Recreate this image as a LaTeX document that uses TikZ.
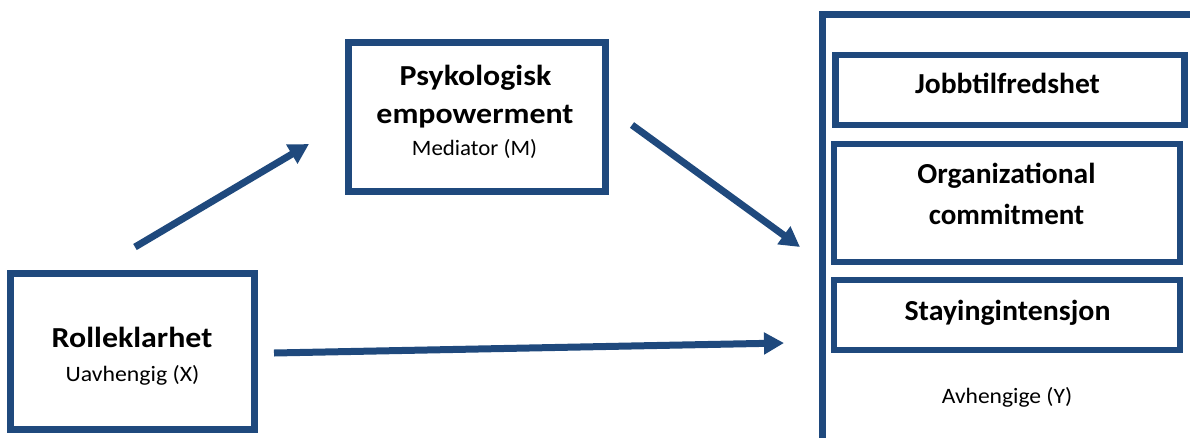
\documentclass[tikz,border=0pt]{standalone}
\usepackage{fontspec}
\usepackage{graphicx}
\setmainfont{Carlito}
\usetikzlibrary{arrows.meta}
\definecolor{navy}{HTML}{1F497D}
\newcommand\hsx[2]{\scalebox{#1}[1]{#2}}
\begin{document}
\begin{tikzpicture}[x=1pt,y=-1pt,
  box/.style={draw=navy, line width=7pt, rectangle, inner sep=0pt},
  title/.style={font=\fontsize{29}{34}\selectfont\bfseries, anchor=base, inner sep=0pt},
  sub/.style={font=\fontsize{22}{26}\selectfont, anchor=base, inner sep=0pt},
  conn/.style={draw=navy, line width=7pt, -{Triangle[length=20pt,width=21pt]}}
]
\useasboundingbox (0,0) rectangle (1190,437);
\clip (0,0) rectangle (1190,437);
% big dependent box (cut off by the edges)
\draw[navy, line width=7pt] (822.5,460) -- (822.5,14) -- (1210,14);
% boxes
\node[box, minimum width=244pt, minimum height=156pt] (x) at (132.5,351.5) {};
\node[box, minimum width=257pt, minimum height=149pt] (m) at (477,116.5) {};
\node[box, line width=6.5pt, minimum width=349pt, minimum height=70pt] (y1) at (1010,90) {};
\node[box, line width=6.5pt, minimum width=346pt, minimum height=118pt] (y2) at (1007,203) {};
\node[box, line width=6.5pt, minimum width=346pt, minimum height=70pt] (y3) at (1007,315) {};
% texts
\node[title] (xt) at (132,347) {\hsx{1.1}{Rolleklarhet}};
\node[sub] (xs) at (132.5,381) {\hsx{1.08}{Uavhengig (X)}};
\node[title] (mt1) at (475.5,85) {\hsx{1.1}{Psykologisk}};
\node[title] (mt2) at (475,123) {\hsx{1.1}{empowerment}};
\node[sub] (ms) at (474.5,155) {\hsx{1.04}{Mediator (M)}};
\node[title] (y1t) at (1007.5,93) {\hsx{1.02}{Jobbtilfredshet}};
\node[title] (y2t1) at (1006.5,183) {\hsx{1.02}{Organizational}};
\node[title] (y2t2) at (1006.5,224) {\hsx{1.0}{commitment}};
\node[title] (y3t) at (1007.5,320) {\hsx{1.03}{Stayingintensjon}};
\node[sub] (ys) at (1007,403) {\hsx{1.07}{Avhengige (Y)}};
% arrows
\coordinate (a1s) at (135,247);
\coordinate (a1e) at (309,144);
\coordinate (a2s) at (632,125);
\coordinate (a2e) at (800,247);
\coordinate (a3s) at (274,353);
\coordinate (a3e) at (784,343);
\draw[conn] (a1s) -- (a1e);
\draw[conn] (a2s) -- (a2e);
\draw[conn] (a3s) -- (a3e);
\end{tikzpicture}
\end{document}
